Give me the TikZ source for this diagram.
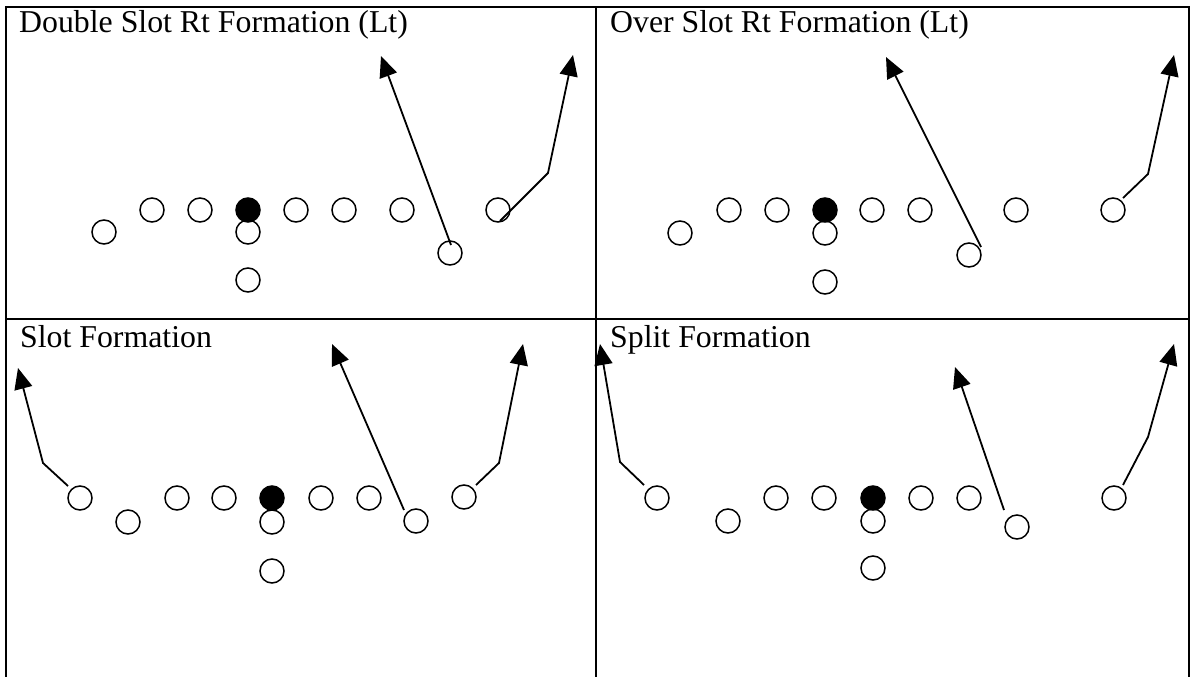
\documentclass[tikz,border=0pt]{standalone}
\usepackage{fontspec}
\setmainfont{Liberation Serif}
\usetikzlibrary{arrows.meta}
\tikzset{
  player/.style={circle,draw=black,line width=1.5pt,fill=white,minimum size=24pt,inner sep=0pt},
  center/.style={player,fill=black},
  route/.style={line width=1.8pt,-{Triangle[length=21pt,width=18pt]}},
  gridline/.style={line width=2pt},
  title/.style={anchor=base west,inner sep=0pt,font=\fontsize{31.8}{38}\selectfont}
}
\begin{document}
\begin{tikzpicture}[x=1pt,y=-1pt]
\useasboundingbox (0,0) rectangle (1191,677);
% grid
\coordinate (g1) at (6,677);
\coordinate (g2) at (6,7);
\coordinate (g3) at (1189,7);
\coordinate (g4) at (1189,677);
\coordinate (h1) at (6,319);
\coordinate (h2) at (1189,319);
\coordinate (v1) at (596,7);
\coordinate (v2) at (596,677);
\draw[gridline] (g1) -- (g2) -- (g3) -- (g4);
\draw[gridline] (h1) -- (h2);
\draw[gridline] (v1) -- (v2);

% ---------- Top left ----------
\node[title] (t1) at (19,33) {Double Slot Rt Formation (Lt)};
\node[player] (a1) at (152,210) {};
\node[player] (a2) at (200,210) {};
\node[player] (a4) at (296,210) {};
\node[player] (a5) at (344,210) {};
\node[player] (a6) at (402,210) {};
\node[player] (a7) at (498,210) {};
\node[player] (a8) at (104,232) {};
\node[player] (a9) at (248,232) {};
\node[center] (a3) at (248,210) {};
\node[player] (a10) at (248,280) {};
\node[player] (a11) at (450,253) {};
\coordinate (a11s) at (451,245);
\coordinate (a11t) at (381,56);
\draw[route] (a11s) -- (a11t);
\coordinate (a7s) at (500,221);
\coordinate (a7b) at (548,173);
\coordinate (a7t) at (573,55);
\draw[route] (a7s) -- (a7b) -- (a7t);

% ---------- Top right ----------
\node[title] (t2) at (610,33) {Over Slot Rt Formation (Lt)};
\node[player] (b1) at (729,210) {};
\node[player] (b2) at (777,210) {};
\node[player] (b4) at (872,210) {};
\node[player] (b5) at (920,210) {};
\node[player] (b6) at (1016,210) {};
\node[player] (b7) at (1113,210) {};
\node[player] (b8) at (680,233) {};
\node[player] (b9) at (825,233) {};
\node[center] (b3) at (825,210) {};
\node[player] (b10) at (825,282) {};
\node[player] (b11) at (969,255) {};
\coordinate (b11s) at (981,247);
\coordinate (b11t) at (886,57);
\draw[route] (b11s) -- (b11t);
\coordinate (b7s) at (1123,198);
\coordinate (b7b) at (1148,174);
\coordinate (b7t) at (1174,55);
\draw[route] (b7s) -- (b7b) -- (b7t);

% ---------- Bottom left ----------
\node[title] (t3) at (20,347) {Slot Formation};
\node[player] (c1) at (80,498) {};
\node[player] (c2) at (177,498) {};
\node[player] (c3) at (224,498) {};
\node[player] (c5) at (321,498) {};
\node[player] (c6) at (369,498) {};
\node[player] (c7) at (464,497) {};
\node[player] (c8) at (128,522) {};
\node[player] (c9) at (272,522) {};
\node[center] (c4) at (272,498) {};
\node[player] (c10) at (272,571) {};
\node[player] (c11) at (416,521) {};
\coordinate (c1s) at (68,486);
\coordinate (c1b) at (43,463);
\coordinate (c1t) at (18,368);
\draw[route] (c1s) -- (c1b) -- (c1t);
\coordinate (c11s) at (404,510);
\coordinate (c11t) at (332,344);
\draw[route] (c11s) -- (c11t);
\coordinate (c7s) at (476,485);
\coordinate (c7b) at (499,463);
\coordinate (c7t) at (523,344);
\draw[route] (c7s) -- (c7b) -- (c7t);

% ---------- Bottom right ----------
\node[title] (t4) at (610,347) {Split Formation};
\node[player] (d1) at (657,498) {};
\node[player] (d2) at (776,498) {};
\node[player] (d3) at (824,498) {};
\node[player] (d5) at (921,498) {};
\node[player] (d6) at (969,498) {};
\node[player] (d7) at (1114,498) {};
\node[player] (d8) at (728,521) {};
\node[player] (d9) at (873,521) {};
\node[center] (d4) at (873,498) {};
\node[player] (d10) at (873,568) {};
\node[player] (d11) at (1017,527) {};
\coordinate (d1s) at (644,485);
\coordinate (d1b) at (620,462);
\coordinate (d1t) at (600,344);
\draw[route] (d1s) -- (d1b) -- (d1t);
\coordinate (d11s) at (1004,510);
\coordinate (d11t) at (955,367);
\draw[route] (d11s) -- (d11t);
\coordinate (d7s) at (1123,485);
\coordinate (d7b) at (1148,437);
\coordinate (d7t) at (1174,344);
\draw[route] (d7s) -- (d7b) -- (d7t);
\end{tikzpicture}
\end{document}
